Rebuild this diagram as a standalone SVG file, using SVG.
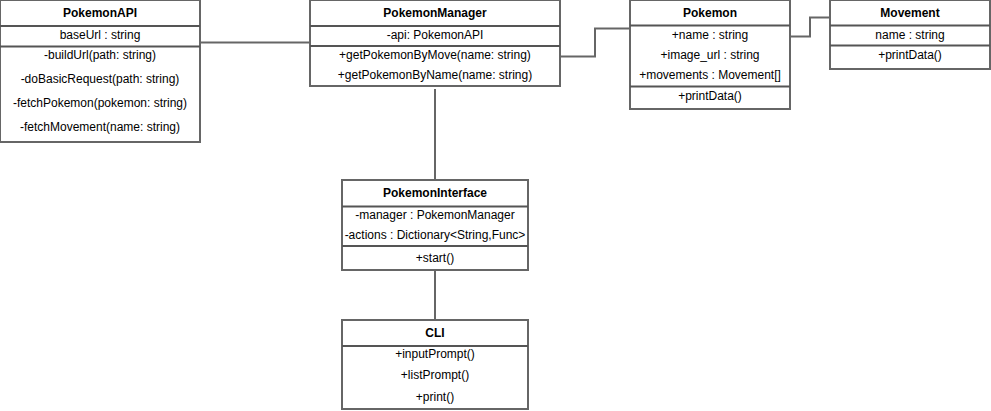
<svg xmlns="http://www.w3.org/2000/svg" width="991" height="411" viewBox="0 0 991 411">
<style>
.box{fill:#fff;stroke:#666;stroke-width:2}
.sep{stroke:#555;stroke-width:2}
.t{font-family:"Liberation Sans",Arial,sans-serif;font-size:12px;fill:#000;text-anchor:middle;dominant-baseline:central}
.b{font-weight:bold}
.c{fill:none;stroke:#666;stroke-width:2}
</style>
<rect width="991" height="411" fill="#fff"/>
<g id="connectors">
<path class="c" d="M200 42.5H310"/>
<path class="c" d="M560 56.5H595V28.5H630"/>
<path class="c" d="M790 36.5H810V17.5H830"/>
<path class="c" d="M435 89V180"/>
<path class="c" d="M435 270V320"/>
</g>
<g id="PokemonAPI">
<rect class="box" x="0" y="0" width="200" height="142"/>
<line class="sep" x1="0" y1="26" x2="200" y2="26"/>
<line class="sep" x1="0" y1="46.5" x2="200" y2="46.5"/>
<text class="t b" x="100" y="13">PokemonAPI</text>
<text class="t" x="100" y="35">baseUrl : string</text>
<text class="t" x="100" y="55">-buildUrl(path: string)</text>
<text class="t" x="100" y="79">-doBasicRequest(path: string)</text>
<text class="t" x="100" y="103">-fetchPokemon(pokemon: string)</text>
<text class="t" x="100" y="127">-fetchMovement(name: string)</text>
</g>
<g id="PokemonManager">
<rect class="box" x="310" y="0" width="250" height="86"/>
<line class="sep" x1="310" y1="26" x2="560" y2="26" stroke="#222"/>
<line class="sep" x1="310" y1="46" x2="560" y2="46"/>
<text class="t b" x="435" y="13">PokemonManager</text>
<text class="t" x="435" y="35">-api: PokemonAPI</text>
<text class="t" x="435" y="55">+getPokemonByMove(name: string)</text>
<text class="t" x="435" y="75">+getPokemonByName(name: string)</text>
</g>
<g id="Pokemon">
<rect class="box" x="630" y="0" width="160" height="109"/>
<line class="sep" x1="630" y1="25.5" x2="790" y2="25.5"/>
<line class="sep" x1="630" y1="86.5" x2="790" y2="86.5"/>
<text class="t b" x="710" y="13">Pokemon</text>
<text class="t" x="710" y="35">+name : string</text>
<text class="t" x="710" y="55">+image_url : string</text>
<text class="t" x="710" y="75">+movements : Movement[]</text>
<text class="t" x="710" y="96">+printData()</text>
</g>
<g id="Movement">
<rect class="box" x="830" y="0" width="160" height="69"/>
<line class="sep" x1="830" y1="25.5" x2="990" y2="25.5"/>
<line class="sep" x1="830" y1="45.5" x2="990" y2="45.5"/>
<text class="t b" x="910" y="13">Movement</text>
<text class="t" x="910" y="35">name : string</text>
<text class="t" x="910" y="55">+printData()</text>
</g>
<g id="PokemonInterface">
<rect class="box" x="342" y="180" width="186" height="90"/>
<line class="sep" x1="342" y1="206.5" x2="528" y2="206.5"/>
<line class="sep" x1="342" y1="246" x2="528" y2="246"/>
<text class="t b" x="435" y="193">PokemonInterface</text>
<text class="t" x="435" y="215">-manager : PokemonManager</text>
<text class="t" x="435" y="235">-actions : Dictionary&lt;String,Func&gt;</text>
<text class="t" x="435" y="258">+start()</text>
</g>
<g id="CLI">
<rect class="box" x="342" y="320" width="186" height="89"/>
<line class="sep" x1="342" y1="346" x2="528" y2="346"/>
<text class="t b" x="435" y="333">CLI</text>
<text class="t" x="435" y="354">+inputPrompt()</text>
<text class="t" x="435" y="375">+listPrompt()</text>
<text class="t" x="435" y="397">+print()</text>
</g>
</svg>
